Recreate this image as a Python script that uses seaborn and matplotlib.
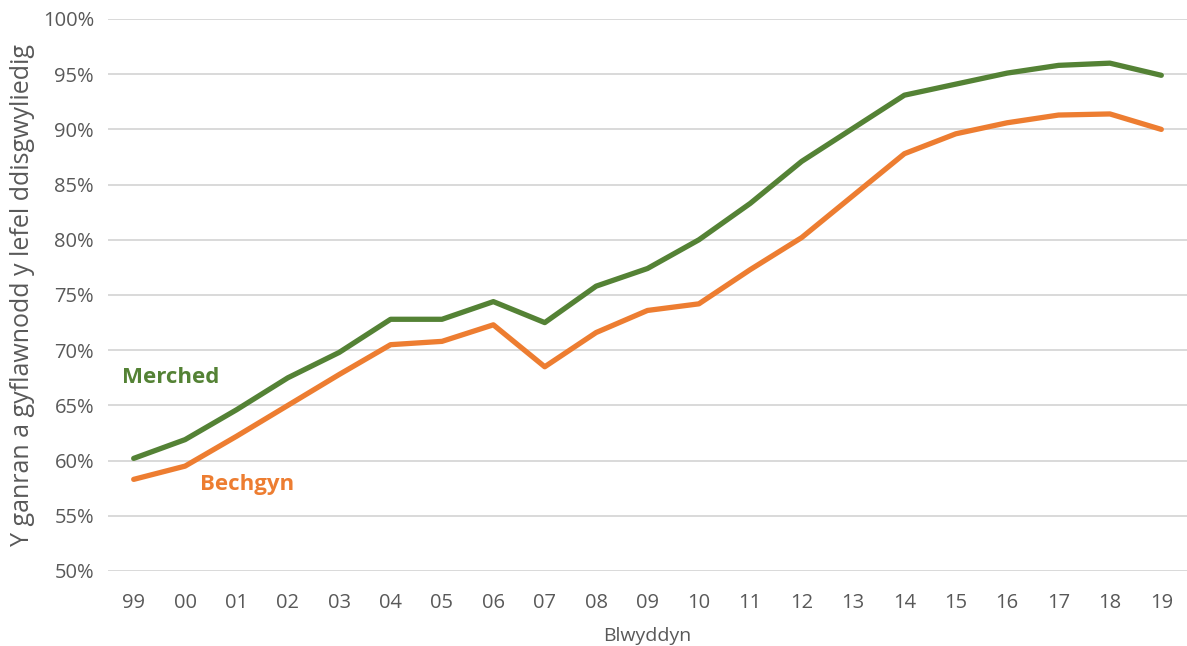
import numpy as np
import pandas as pd
import seaborn as sns
import matplotlib.pyplot as plt
from matplotlib.ticker import FuncFormatter

years = ['99', '00', '01', '02', '03', '04', '05', '06', '07', '08', '09',
         '10', '11', '12', '13', '14', '15', '16', '17', '18', '19']
merched = [60.2, 61.9, 64.6, 67.5, 69.8, 72.8, 72.8, 74.4, 72.5, 75.8, 77.4,
           80.0, 83.3, 87.1, 90.1, 93.1, 94.1, 95.1, 95.8, 96.0, 94.9]
bechgyn = [58.3, 59.5, 62.2, 65.0, 67.8, 70.5, 70.8, 72.3, 68.5, 71.6, 73.6,
           74.2, 77.3, 80.2, 84.0, 87.8, 89.6, 90.6, 91.3, 91.4, 90.0]

green = '#548235'
orange = '#ED7D31'
grey = '#595959'

df = pd.DataFrame({
    'pos': list(range(len(years))) * 2,
    'value': merched + bechgyn,
    'group': ['Merched'] * len(years) + ['Bechgyn'] * len(years),
})

sns.set_style('white')
plt.rcParams['font.family'] = ['Open Sans', 'DejaVu Sans']

fig = plt.figure(figsize=(11.87, 6.46), dpi=100)
ax = fig.add_axes([108 / 1187, 1 - 571 / 646, (1187 - 108) / 1187, (571 - 19) / 646])

sns.lineplot(data=df, x='pos', y='value', hue='group',
             palette={'Merched': green, 'Bechgyn': orange},
             linewidth=3.8, legend=False, ax=ax)
for line in ax.lines:
    line.set_solid_joinstyle('round')
    line.set_solid_capstyle('round')

ax.set_xlim(-0.5, len(years) - 0.5)
ax.set_ylim(50, 100)
ax.set_yticks(np.arange(50, 101, 5))
ax.yaxis.set_major_formatter(FuncFormatter(lambda v, p: f'{v:.0f}%'))
ax.set_xticks(range(len(years)))
ax.set_xticklabels(years)

ax.grid(axis='y', color='#D9D9D9', linewidth=1.4)
ax.set_axisbelow(True)
for s in ax.spines.values():
    s.set_visible(False)
ax.tick_params(axis='both', length=0, labelsize=14.5, colors=grey, pad=10)
ax.tick_params(axis='x', pad=16)

ax.set_xlabel('Blwyddyn', fontsize=14, color=grey, labelpad=10)
ax.set_ylabel('Y ganran a gyflawnodd y lefel ddisgwyliedig', fontsize=18,
              color=grey, labelpad=6)

ax.text(-0.23, 67.5, 'Merched', color=green, fontsize=16, fontweight='bold',
        ha='left', va='center')
ax.text(1.3, 57.8, 'Bechgyn', color=orange, fontsize=16, fontweight='bold',
        ha='left', va='center')

fig.savefig('out.png', dpi=100)
